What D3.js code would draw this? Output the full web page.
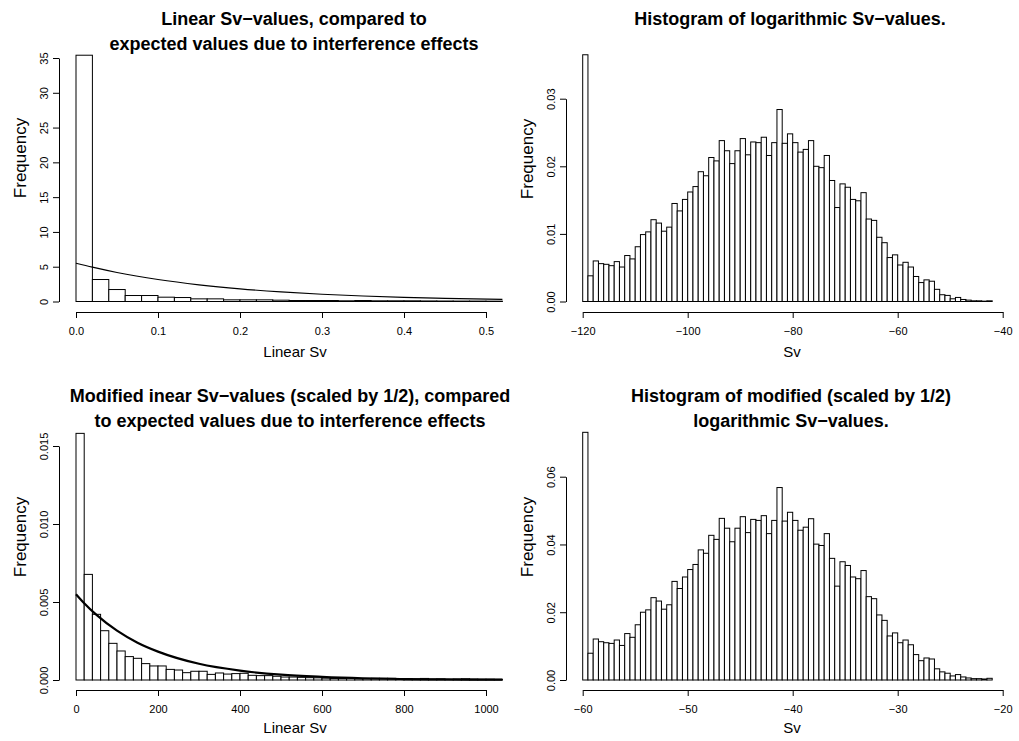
<!DOCTYPE html>
<meta charset="utf-8">

<style>

body {
  margin: 0;
  background: white;
}

svg.chart {
  background: white;
  font-family: "Liberation Sans", Helvetica, Arial, sans-serif;
}

svg.chart text {
  fill: black;
}

svg.chart .bar {
  fill: white;
  stroke: black;
  stroke-width: 1;
}

svg.chart .axis text {
  font-size: 11px;
}

svg.chart .axis path,
svg.chart .axis line {
  stroke: black;
}

svg.chart text.title {
  font-size: 18px;
  font-weight: bold;
  text-anchor: middle;
}

svg.chart text.xlab {
  font-size: 15px;
  text-anchor: middle;
}

svg.chart text.ylab {
  font-size: 17px;
  text-anchor: middle;
}

svg.chart .curve {
  fill: none;
  stroke: black;
}

</style>

<svg class="chart" width="1019" height="741"></svg>

<script src="https://d3js.org/d3.v7.min.js"></script>

<script>

// top left: linear Sv, bins of 0.02 starting at 0
var linFreq = [35.4, 3.16, 1.72, 0.86, 0.86, 0.62, 0.57, 0.38, 0.38, 0.24,
  0.24, 0.24, 0.19, 0.14, 0.14, 0.14, 0.10, 0.14, 0.10, 0.10,
  0.10, 0.08, 0.07, 0.06, 0.06, 0.05];
var linCurveX = [0, 0.02, 0.05, 0.1, 0.15, 0.2, 0.25, 0.3, 0.35, 0.4, 0.45, 0.52];
var linCurveY = [5.5, 4.93, 4.17, 3.16, 2.40, 1.82, 1.38, 1.04, 0.79, 0.60, 0.46, 0.31];
var linXTicks = [0, 0.1, 0.2, 0.3, 0.4, 0.5];
var linXLabels = ["0.0", "0.1", "0.2", "0.3", "0.4", "0.5"];
var linYTicks = [0, 5, 10, 15, 20, 25, 30, 35];
var linYLabels = ["0", "5", "10", "15", "20", "25", "30", "35"];

// top right: logarithmic Sv, bins of 1 starting at -120
var logFreq = [0.0365, 0.0038, 0.0060, 0.0056, 0.0055, 0.0053, 0.0059, 0.0051, 0.0068, 0.0063,
  0.0081, 0.0099, 0.0103, 0.0121, 0.0116, 0.0104, 0.0110, 0.0145, 0.0134, 0.0151,
  0.0162, 0.0170, 0.0192, 0.0186, 0.0213, 0.0208, 0.0238, 0.0223, 0.0204, 0.0223,
  0.0241, 0.0217, 0.0236, 0.0235, 0.0243, 0.0216, 0.0235, 0.0284, 0.0234, 0.0248,
  0.0235, 0.0221, 0.0225, 0.0238, 0.0200, 0.0198, 0.0216, 0.0179, 0.0139, 0.0174,
  0.0169, 0.0151, 0.0149, 0.0161, 0.0122, 0.0120, 0.0095, 0.0087, 0.0065, 0.0069,
  0.0054, 0.0058, 0.0051, 0.0037, 0.0028, 0.0032, 0.0030, 0.0018, 0.0010, 0.0009,
  0.0004, 0.0006, 0.0003, 0.0002, 0.0001, 0.0001, 0.00005, 0.0001];
var logXTicks = [-120, -100, -80, -60, -40];
var logXLabels = ["\u2212120", "\u2212100", "\u221280", "\u221260", "\u221240"];
var logYTicks = [0, 0.01, 0.02, 0.03];
var logYLabels = ["0.00", "0.01", "0.02", "0.03"];

// bottom left: modified linear Sv, bins of 20 starting at 0
var modLinFreq = [0.01581, 0.00677, 0.00421, 0.00316, 0.00235, 0.00186, 0.00150, 0.00139, 0.00105, 0.00090,
  0.00090, 0.00068, 0.00064, 0.00047, 0.00056, 0.00056, 0.00036, 0.00045, 0.00038, 0.00041,
  0.00043, 0.00030, 0.00028, 0.00028, 0.00024, 0.00019, 0.00019, 0.00017, 0.00015, 0.00014,
  0.00012, 0.00010, 0.00010, 0.00013, 0.00009, 0.00010, 0.00011, 0.00011, 0.00011, 0.00008,
  0.00009, 0.00007, 0.00010, 0.00006, 0.00007, 0.00004, 0.00006, 0.00008, 0.00006, 0.00005,
  0.00005, 0.00004];
var modLinCurveX = [0, 20, 50, 100, 150, 200, 300, 400, 500, 600, 700, 800, 900, 1040];
var modLinCurveY = [0.0055, 0.00492, 0.00417, 0.00316, 0.00239, 0.00182, 0.00104, 0.00060,
  0.00034, 0.00020, 0.00011, 0.00006, 0.00004, 0.00002];
var modLinXTicks = [0, 200, 400, 600, 800, 1000];
var modLinXLabels = ["0", "200", "400", "600", "800", "1000"];
var modLinYTicks = [0, 0.005, 0.010, 0.015];
var modLinYLabels = ["0.000", "0.005", "0.010", "0.015"];

// bottom right: modified logarithmic Sv, bins of 0.5 starting at -60
var modLogFreq = [0.0731, 0.0079, 0.0121, 0.0113, 0.0110, 0.0108, 0.0118, 0.0102, 0.0137, 0.0126,
  0.0163, 0.0200, 0.0207, 0.0243, 0.0233, 0.0209, 0.0222, 0.0291, 0.0270, 0.0304,
  0.0326, 0.0341, 0.0384, 0.0374, 0.0427, 0.0415, 0.0477, 0.0448, 0.0408, 0.0448,
  0.0482, 0.0435, 0.0474, 0.0471, 0.0485, 0.0432, 0.0471, 0.0568, 0.0469, 0.0495,
  0.0471, 0.0442, 0.0451, 0.0476, 0.0401, 0.0397, 0.0432, 0.0359, 0.0277, 0.0349,
  0.0338, 0.0304, 0.0299, 0.0323, 0.0246, 0.0240, 0.0192, 0.0176, 0.0130, 0.0139,
  0.0110, 0.0118, 0.0104, 0.0075, 0.0057, 0.0065, 0.0062, 0.0033, 0.0024, 0.0020,
  0.0012, 0.0016, 0.0009, 0.0006, 0.0004, 0.0004, 0.0003, 0.0005];
var modLogXTicks = [-60, -50, -40, -30, -20];
var modLogXLabels = ["\u221260", "\u221250", "\u221240", "\u221230", "\u221220"];
var modLogYTicks = [0, 0.02, 0.04, 0.06];
var modLogYLabels = ["0.00", "0.02", "0.04", "0.06"];


var svg = d3.select("svg.chart");

drawPanel({
  values: linFreq, start: 0, binWidth: 0.02,
  xScale: d3.scaleLinear().domain([0, 0.5]).range([76, 486]),
  yScale: d3.scaleLinear().domain([0, 35]).range([301.5, 58]),
  xTicks: linXTicks, xLabels: linXLabels, yTicks: linYTicks, yLabels: linYLabels,
  axisY: 312, axisX: 59,
  title: ["Linear Sv\u2212values, compared to", "expected values due to interference effects"],
  titleX: 294, titleY: 25,
  xlab: "Linear Sv", xlabX: 295, xlabY: 357, ylabX: 26, ylabY: 158,
  curveX: linCurveX, curveY: linCurveY, curveWidth: 1.2
});

drawPanel({
  values: logFreq, start: -120, binWidth: 1,
  xScale: d3.scaleLinear().domain([-120, -40]).range([582.7, 1002.7]),
  yScale: d3.scaleLinear().domain([0, 0.03]).range([301.5, 98.7]),
  xTicks: logXTicks, xLabels: logXLabels, yTicks: logYTicks, yLabels: logYLabels,
  axisY: 312, axisX: 566,
  title: ["Histogram of logarithmic Sv\u2212values."],
  titleX: 790, titleY: 25,
  xlab: "Sv", xlabX: 792, xlabY: 357, ylabX: 533, ylabY: 159
});

drawPanel({
  values: modLinFreq, start: 0, binWidth: 20,
  xScale: d3.scaleLinear().domain([0, 1000]).range([76, 486]),
  yScale: d3.scaleLinear().domain([0, 0.015]).range([680, 446]),
  xTicks: modLinXTicks, xLabels: modLinXLabels, yTicks: modLinYTicks, yLabels: modLinYLabels,
  axisY: 690, axisX: 59,
  title: ["Modified inear Sv\u2212values (scaled by 1/2), compared", "to expected values due to interference effects"],
  titleX: 290, titleY: 402,
  xlab: "Linear Sv", xlabX: 295, xlabY: 733, ylabX: 26, ylabY: 537,
  curveX: modLinCurveX, curveY: modLinCurveY, curveWidth: 2.2
});

drawPanel({
  values: modLogFreq, start: -60, binWidth: 0.5,
  xScale: d3.scaleLinear().domain([-60, -20]).range([582.7, 1002.7]),
  yScale: d3.scaleLinear().domain([0, 0.06]).range([680, 476.7]),
  xTicks: modLogXTicks, xLabels: modLogXLabels, yTicks: modLogYTicks, yLabels: modLogYLabels,
  axisY: 690, axisX: 566,
  title: ["Histogram of modified (scaled by 1/2)", "logarithmic Sv\u2212values."],
  titleX: 791, titleY: 402,
  xlab: "Sv", xlabX: 792, xlabY: 733, ylabX: 533, ylabY: 537
});


function drawPanel(p) {
  var g = svg.append("g");
  var x = p.xScale;
  var y = p.yScale;

  // Bars
  g.selectAll(".bar")
    .data(p.values)
    .enter().append("rect")
      .attr("class", "bar")
      .attr("x", function(d, i) { return x(p.start + i * p.binWidth); })
      .attr("y", function(d) { return y(d); })
      .attr("width", function(d, i) {
        return x(p.start + (i + 1) * p.binWidth) - x(p.start + i * p.binWidth);
      })
      .attr("height", function(d) { return y(0) - y(d); });

  // Expected curve
  if (p.curveX) {
    var pts = p.curveX.map(function(v, i) { return [v, p.curveY[i]]; });
    g.append("path")
      .attr("class", "curve")
      .attr("stroke-width", p.curveWidth)
      .attr("d", d3.line()
        .x(function(d) { return x(d[0]); })
        .y(function(d) { return y(d[1]); })
        .curve(d3.curveMonotoneX)(pts));
  }

  // Axes
  var xAxis = d3.axisBottom(x)
    .tickValues(p.xTicks)
    .tickFormat(function(d, i) { return p.xLabels[i]; })
    .tickSize(6)
    .tickSizeOuter(0);

  g.append("g")
    .attr("class", "x axis")
    .attr("transform", `translate(0,${p.axisY})`)
    .call(xAxis)
    .call(function(a) { a.selectAll("text").attr("y", 23).attr("dy", 0); })
    .attr("font-family", null)
    .attr("font-size", null);

  var yAxis = d3.axisLeft(y)
    .tickValues(p.yTicks)
    .tickFormat(function(d, i) { return p.yLabels[i]; })
    .tickSize(6)
    .tickSizeOuter(0);

  g.append("g")
    .attr("class", "y axis")
    .attr("transform", `translate(${p.axisX},0)`)
    .call(yAxis)
    .call(function(a) {
      a.selectAll("text")
        .attr("transform", "rotate(-90)")
        .attr("x", 0)
        .attr("y", -11)
        .attr("dy", 0)
        .style("text-anchor", "middle");
    })
    .attr("font-family", null)
    .attr("font-size", null);

  // Titles and labels
  p.title.forEach(function(line, i) {
    g.append("text")
      .attr("class", "title")
      .attr("x", p.titleX)
      .attr("y", p.titleY + i * 25)
      .text(line);
  });

  g.append("text")
    .attr("class", "xlab")
    .attr("x", p.xlabX)
    .attr("y", p.xlabY)
    .text(p.xlab);

  g.append("text")
    .attr("class", "ylab")
    .attr("transform", `translate(${p.ylabX},${p.ylabY}) rotate(-90)`)
    .text("Frequency");
}

</script>
